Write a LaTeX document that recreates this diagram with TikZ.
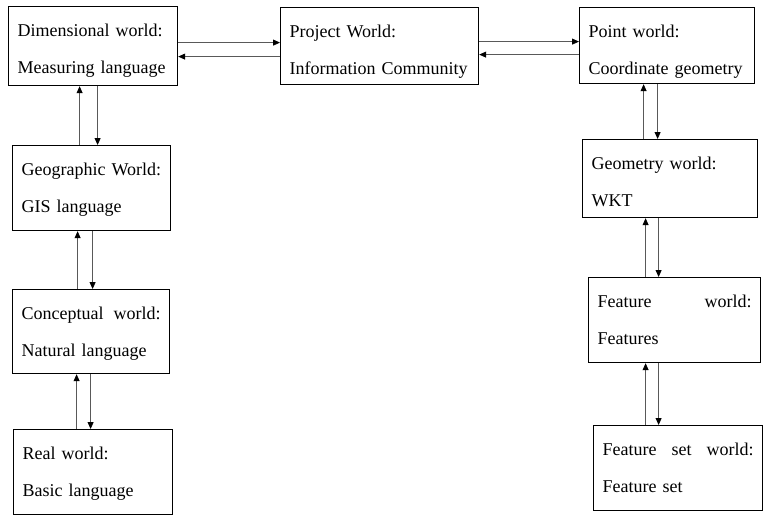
\documentclass[tikz,border=0pt]{standalone}
\usepackage{fontspec}
\setmainfont{Liberation Serif}
\usepackage{tikz}
\usetikzlibrary{arrows.meta,positioning,calc}

\begin{document}
\begin{tikzpicture}[x=1pt,y=-1pt,>={Triangle[length=7pt,width=6pt,color=black]},
 world/.style 2 args={draw,line width=1.2pt,anchor=north west,align=left,
  font=\fontsize{18}{37}\selectfont,inner xsep=9pt,inner ysep=0pt,
  text height=30pt,text width=#1,text depth=#2},
 link/.style={->,line width=.8pt,black!65}]
\useasboundingbox (0,0) rectangle (768,519);
\node[world={151pt}{49pt}] (dim) at (8,6) {Dimensional world:\\Measuring language};
\node[world={180pt}{47pt}] (proj) at (280,7) {Project World:\\Information Community};
\node[world={157pt}{46pt}] (point) at (579,7) {Point world:\\Coordinate geometry};
\node[world={140pt}{55pt}] (geo) at (12,145) {Geographic World:\\GIS language};
\node[world={157pt}{48pt}] (geom) at (582,139) {Geometry world:\\WKT};
\node[world={139pt}{54pt}] (conc) at (12,289) {\hbox to\hsize{Conceptual\hfill world:}\\Natural language};
\node[world={154pt}{55pt}] (feat) at (588,277) {\hbox to\hsize{Feature\hfill world:}\\Features};
\node[world={141pt}{55pt}] (real) at (13,429) {Real world:\\Basic language};
\node[world={151pt}{55pt}] (fset) at (593,425) {\hbox to\hsize{Feature\hfill set\hfill world:}\\Feature set};
\draw[link] ([yshift=3.5pt]dim.east) -- ([yshift=3.5pt]proj.west);
\draw[link] ([yshift=-10.5pt]proj.west) -- ([yshift=-10.5pt]dim.east);
\draw[link] ([yshift=4.5pt]proj.east) -- ([yshift=4pt]point.west);
\draw[link] ([yshift=-9pt]point.west) -- ([yshift=-8.5pt]proj.east);
\draw[link] ([xshift=-12pt]geo.north) -- ([xshift=-13.5pt]dim.south);
\draw[link] ([xshift=4.5pt]dim.south) -- ([xshift=6pt]geo.north);
\draw[link] ([xshift=-13.5pt]conc.north) -- ([xshift=-14pt]geo.south);
\draw[link] ([xshift=1pt]geo.south) -- ([xshift=1.5pt]conc.north);
\draw[link] ([xshift=-16.5pt]real.north) -- ([xshift=-14.5pt]conc.south);
\draw[link] ([xshift=-.5pt]conc.south) -- ([xshift=-2.5pt]real.north);
\draw[link] ([xshift=-26.5pt]geom.north) -- ([xshift=-23.5pt]point.south);
\draw[link] ([xshift=-9.5pt]point.south) -- ([xshift=-12.5pt]geom.north);
\draw[link] ([xshift=-29pt]feat.north) -- ([xshift=-24.5pt]geom.south);
\draw[link] ([xshift=-11.5pt]geom.south) -- ([xshift=-16pt]feat.north);
\draw[link] ([xshift=-32.5pt]fset.north) -- ([xshift=-29pt]feat.south);
\draw[link] ([xshift=-16pt]feat.south) -- ([xshift=-19.5pt]fset.north);
\end{tikzpicture}
\end{document}
